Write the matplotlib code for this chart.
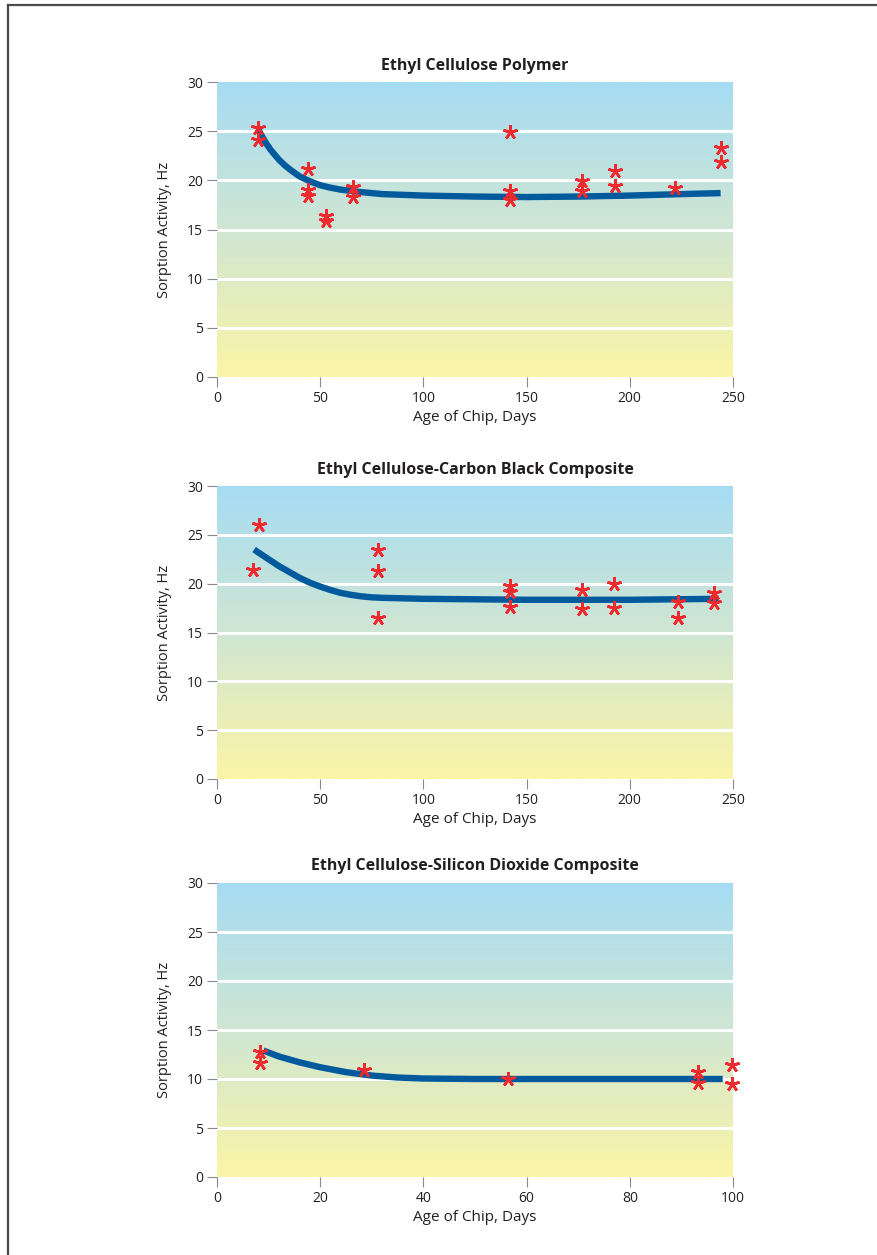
import numpy as np
import matplotlib
matplotlib.use("Agg")
import matplotlib.pyplot as plt
from matplotlib.colors import LinearSegmentedColormap
from matplotlib.lines import Line2D

plt.rcParams['font.family'] = ['Open Sans', 'DejaVu Sans']

# panel 1 : ethyl cellulose polymer
p1_x = [20, 20, 44, 44, 44, 53, 53, 66, 66, 142, 142, 142, 177, 177, 193, 193, 222, 244, 244]
p1_y = [25.3, 24.1, 21.2, 19.0, 18.4, 16.4, 15.9, 19.3, 18.3, 24.9, 18.9, 18.0, 19.9, 18.9, 21.0, 19.4, 19.2, 23.3, 21.9]
p1_fit_x = [20, 22, 24, 26, 28, 30, 33, 36, 40, 45, 50, 55, 60, 70, 80, 100, 125, 150, 175, 200, 225, 244]
p1_fit_y = [25.2, 24.4, 23.7, 23.1, 22.6, 22.1, 21.5, 21.0, 20.4, 19.9, 19.5, 19.25, 19.05, 18.8, 18.6,
            18.45, 18.35, 18.3, 18.35, 18.45, 18.6, 18.7]

# panel 2 : carbon black composite
p2_x = [17.5, 20.5, 78, 78, 78, 142, 142, 142, 177, 177, 192.5, 192.5, 223.5, 223.5, 241, 241]
p2_y = [21.4, 26.0, 23.4, 21.3, 16.5, 19.8, 19.1, 17.6, 19.35, 17.4, 20.0, 17.5, 18.1, 16.5, 19.0, 18.0]
p2_fit_x = [18, 20, 25, 30, 35, 40, 45, 50, 55, 60, 65, 70, 75, 80, 100, 150, 200, 243]
p2_fit_y = [23.5, 23.2, 22.5, 21.8, 21.2, 20.6, 20.1, 19.7, 19.35, 19.05, 18.85, 18.7, 18.6, 18.55,
            18.45, 18.35, 18.35, 18.45]

# panel 3 : silicon dioxide composite
p3_x = [8.4, 8.4, 28.5, 56.3, 93.3, 93.3, 99.8, 99.8]
p3_y = [12.8, 11.6, 10.9, 10.0, 10.75, 9.6, 11.4, 9.5]
p3_fit_x = [9, 12, 16, 20, 25, 30, 35, 40, 50, 60, 80, 98]
p3_fit_y = [12.9, 12.3, 11.7, 11.2, 10.7, 10.35, 10.15, 10.05, 10.0, 10.0, 10.0, 10.0]

titles = ["Ethyl Cellulose Polymer",
          "Ethyl Cellulose-Carbon Black Composite",
          "Ethyl Cellulose-Silicon Dioxide Composite"]
xmax = [250, 250, 100]
xticks = [[0, 50, 100, 150, 200, 250], [0, 50, 100, 150, 200, 250], [0, 20, 40, 60, 80, 100]]
yticks = [0, 5, 10, 15, 20, 25, 30]

W, H = 877, 1255
fig = plt.figure(figsize=(W / 100, H / 100), dpi=100)

# outer frame (top and left edges)
fig.add_artist(Line2D([8 / W, 8 / W], [0, 1 - 5 / H], color="#4a4a4a", lw=1.6))
fig.add_artist(Line2D([8 / W, 1], [1 - 5 / H, 1 - 5 / H], color="#4a4a4a", lw=1.6))

bg = LinearSegmentedColormap.from_list("bg", ["#fbf5a6", "#d0e6d3", "#a6dcf3"])
grad = np.linspace(0, 1, 256).reshape(-1, 1)

tops = [82, 486, 883]
bots = [377, 779, 1177]
data = [(p1_x, p1_y, p1_fit_x, p1_fit_y), (p2_x, p2_y, p2_fit_x, p2_fit_y), (p3_x, p3_y, p3_fit_x, p3_fit_y)]
txt = "#231f20"

for i in range(3):
    ax = fig.add_axes([217 / W, 1 - bots[i] / H, (733 - 217) / W, (bots[i] - tops[i]) / H])
    ax.imshow(grad, origin="lower", aspect="auto", cmap=bg, extent=[0, xmax[i], 0, 30], zorder=0)
    ax.set_xlim(0, xmax[i])
    ax.set_ylim(0, 30)
    for g in [5, 10, 15, 20, 25]:
        ax.axhline(g, color="white", lw=2.2, zorder=1)
    sx, sy, fx, fy = data[i]
    ax.plot(fx, fy, color="#005a9c", lw=4.6, solid_capstyle="butt", solid_joinstyle="round", zorder=2)
    ax.plot(sx, sy, ls="none", marker=(5, 2, 0), ms=10.5, mew=1.9, color="#ee2a2e",
            zorder=3, clip_on=False)
    for s in ax.spines.values():
        s.set_visible(False)
    ax.set_xticks(xticks[i])
    ax.set_yticks(yticks)
    ax.tick_params(axis="both", length=7, width=0.8, color="#8a8a8a", labelsize=10,
                   labelcolor=txt, pad=3)
    ax.set_title(titles[i], fontsize=11.5, fontweight="bold", color=txt, pad=9)
    ax.set_xlabel("Age of Chip, Days", fontsize=11, color=txt, labelpad=3)
    ax.set_ylabel("Sorption Activity, Hz", fontsize=10.5, color=txt, labelpad=11)

fig.savefig("out.png", dpi=100)
